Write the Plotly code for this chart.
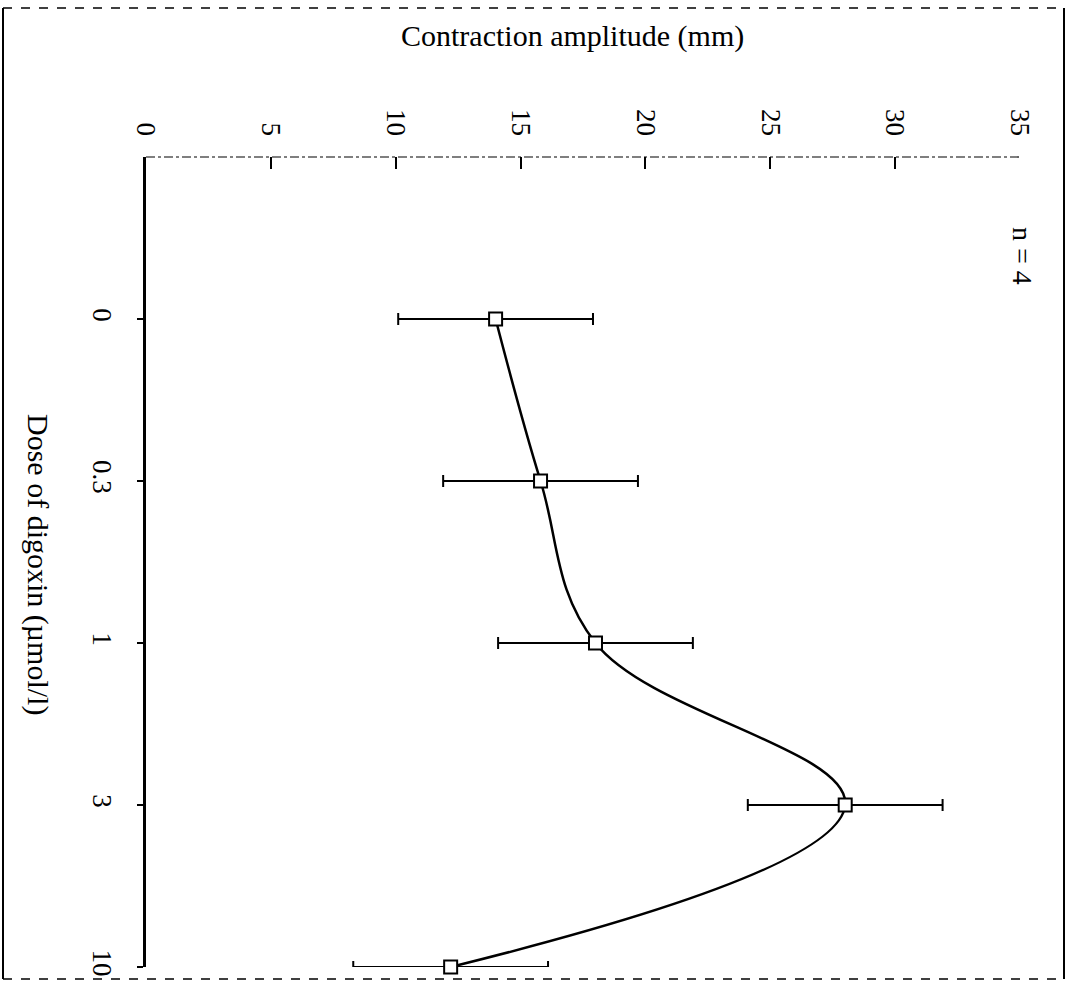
import plotly.graph_objects as go

# ---- data ----
doses = ["0", "0.3", "1", "3", "10"]
amplitude = [14.0, 15.8, 18.0, 28.0, 12.2]
sem = [3.9, 3.9, 3.9, 3.9, 3.9]
amp_ticks = [0, 5, 10, 15, 20, 25, 30, 35]
amp_ticklabels = ["0", "5", "10", "15", "20", "25", "30", "35"]

FONT = "Liberation Serif, Times New Roman, serif"
W, H = 1068, 989
ML, MR, MT, MB = 146, 48, 157, 22
PW, PH = W - ML - MR, H - MT - MB

def px(xp):
    return (xp - ML) / PW

def py(yp):
    return (H - MB - yp) / PH

fig = go.Figure()
fig.add_trace(go.Scatter(
    x=amplitude, y=doses,
    mode="lines+markers",
    line=dict(color="black", width=2.5, shape="spline", smoothing=1.1),
    marker=dict(symbol="square", size=13, color="white",
                line=dict(color="black", width=2)),
    error_x=dict(type="data", array=sem, visible=True,
                 color="black", thickness=2, width=6),
    cliponaxis=False,
    showlegend=False,
))

fig.update_layout(
    width=W, height=H,
    margin=dict(l=ML, r=MR, t=MT, b=MB, pad=0),
    paper_bgcolor="white", plot_bgcolor="white",
    font=dict(family=FONT, color="black", size=26),
    xaxis=dict(
        side="top", range=[0, 35], tickmode="array",
        tickvals=amp_ticks, ticktext=amp_ticklabels, tickangle=90,
        ticks="inside", ticklen=12, tickwidth=2, tickcolor="black",
        ticklabelstandoff=16,
        showline=False, showgrid=False, zeroline=False,
        tickfont=dict(family=FONT, size=27, color="black"),
    ),
    yaxis=dict(
        type="category", categoryorder="array", categoryarray=doses,
        range=[4.0, -1.0], tickangle=90,
        ticks="outside", ticklen=6, tickwidth=1.5, tickcolor="black",
        ticklabelstandoff=12,
        showline=True, linecolor="black", linewidth=2.5,
        showgrid=False, zeroline=False,
        tickfont=dict(family=FONT, size=27, color="black"),
    ),
    shapes=[
        # top (amplitude) axis line, faint/broken as in the scan
        dict(type="line", xref="paper", yref="paper", x0=0, x1=1, y0=1, y1=1,
             line=dict(color="black", width=1.2, dash="dashdot")),
        # page frame
        dict(type="line", xref="paper", yref="paper", x0=px(3), x1=px(3),
             y0=py(8), y1=py(979), line=dict(color="black", width=2)),
        dict(type="line", xref="paper", yref="paper", x0=px(1064), x1=px(1064),
             y0=py(8), y1=py(979), line=dict(color="black", width=2)),
        dict(type="line", xref="paper", yref="paper", x0=px(3), x1=px(1064),
             y0=py(8), y1=py(8), line=dict(color="black", width=1.5, dash="dash")),
        dict(type="line", xref="paper", yref="paper", x0=px(3), x1=px(1064),
             y0=py(979), y1=py(979), line=dict(color="black", width=1.5, dash="dash")),
    ],
    annotations=[
        dict(text="Contraction amplitude (mm)", xref="paper", yref="paper",
             x=px(572), y=py(36), xanchor="center", yanchor="middle",
             showarrow=False, font=dict(family=FONT, size=30, color="black")),
        dict(text="Dose of digoxin (µmol/l)", xref="paper", yref="paper",
             x=px(38), y=py(564), xanchor="center", yanchor="middle",
             textangle=90, showarrow=False,
             font=dict(family=FONT, size=30, color="black")),
        dict(text="n = 4", xref="paper", yref="paper",
             x=px(1023), y=py(256), xanchor="center", yanchor="middle",
             textangle=90, showarrow=False,
             font=dict(family=FONT, size=28, color="black")),
    ],
)

fig.write_html("out.html")
